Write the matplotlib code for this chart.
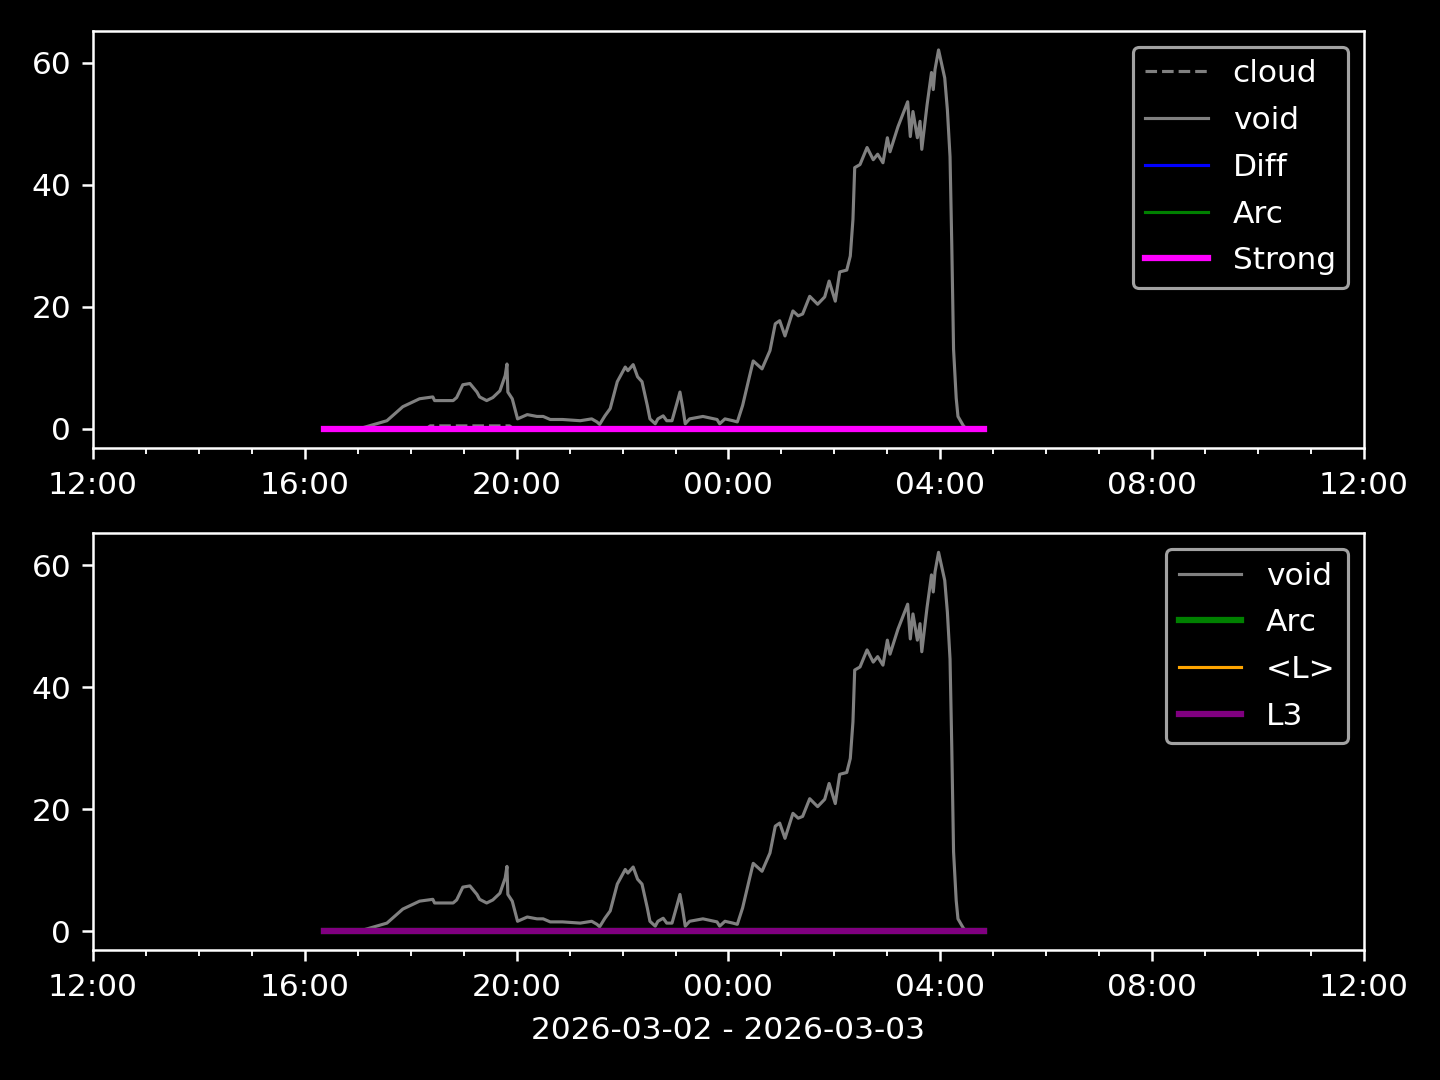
import matplotlib
matplotlib.use("Agg")
import matplotlib.pyplot as plt
import matplotlib.dates as mdates
import pandas as pd

# ---- data (times HH:MM; hours < 12 belong to 2026-03-03) ----
times = ["16:22", "17:02", "17:14", "17:33", "17:51", "18:10", "18:25", "18:27", "18:48", "18:52",
         "18:59", "19:07", "19:15", "19:18", "19:26", "19:33", "19:41", "19:47", "19:49", "19:50",
         "19:55", "20:01", "20:12", "20:23", "20:30", "20:38", "20:52", "21:12", "21:25", "21:31",
         "21:34", "21:40", "21:46", "21:54", "22:03", "22:06", "22:12", "22:17", "22:22", "22:28",
         "22:31", "22:37", "22:40", "22:46", "22:50", "22:56", "23:02", "23:05", "23:08", "23:11",
         "23:16", "23:31", "23:47", "23:50", "23:56", "00:05", "00:10", "00:16", "00:24", "00:28",
         "00:38", "00:47", "00:53", "00:58", "01:04", "01:13", "01:19", "01:24", "01:32", "01:41",
         "01:49", "01:54", "02:01", "02:06", "02:14", "02:18", "02:21", "02:23", "02:29", "02:37",
         "02:44", "02:49", "02:55", "03:00", "03:03", "03:12", "03:23", "03:26", "03:29", "03:34",
         "03:37", "03:39", "03:45", "03:50", "03:52", "03:54", "03:58", "04:05", "04:08", "04:11",
         "04:13", "04:15", "04:18", "04:20", "04:26", "04:29", "04:50"]
void = [0.0, 0.0, 0.5, 1.3, 3.6, 4.9, 5.2, 4.6, 4.6, 5.1,
        7.2, 7.4, 6.0, 5.2, 4.6, 5.1, 6.2, 8.7, 10.6, 6.0,
        4.9, 1.6, 2.3, 2.0, 2.0, 1.5, 1.5, 1.3, 1.6, 1.1,
        0.7, 2.1, 3.3, 7.7, 10.1, 9.5, 10.5, 8.5, 7.7, 3.8,
        1.6, 0.8, 1.6, 2.1, 1.3, 1.3, 4.4, 6.0, 3.6, 0.8,
        1.6, 2.0, 1.5, 0.8, 1.6, 1.3, 1.1, 3.8, 8.7, 11.1,
        9.8, 12.8, 17.2, 17.7, 15.2, 19.3, 18.5, 18.8, 21.7, 20.4,
        21.6, 24.2, 20.9, 25.7, 26.0, 28.3, 34.3, 42.8, 43.3, 46.1,
        44.1, 45.0, 43.6, 47.7, 45.4, 49.5, 53.6, 47.9, 52.0, 47.7,
        50.4, 45.8, 53.1, 58.4, 55.6, 58.9, 62.1, 57.5, 52.3, 44.6,
        30.0, 13.0, 5.0, 2.0, 0.5, 0.0, 0.0]
zero = [0.0] * len(times)
diff = zero
arc = zero
strong = zero
mean_l = zero
l3 = zero

cloud_times = ["16:22", "18:18", "18:22", "19:52", "19:56", "04:50"]
cloud = [0.0, 0.0, 0.45, 0.45, 0.0, 0.0]


def to_dt(hm):
    h = int(hm.split(":")[0])
    day = "2026-03-02" if h >= 12 else "2026-03-03"
    return pd.Timestamp(f"{day} {hm}")


t = [to_dt(s) for s in times]
tc = [to_dt(s) for s in cloud_times]

plt.style.use("dark_background")
fig, (ax1, ax2) = plt.subplots(2, 1, figsize=(6.4, 4.8), dpi=225)
fig.subplots_adjust(left=0.0646, right=0.9472, top=0.9713, bottom=0.1204, hspace=0.206)

ax1.plot(tc, cloud, color="gray", lw=1, ls="--", label="cloud")
ax1.plot(t, void, color="gray", lw=1, label="void")
ax1.plot(t, diff, color="blue", lw=1, label="Diff")
ax1.plot(t, arc, color="green", lw=1, label="Arc")
ax1.plot(t, strong, color="magenta", lw=2, label="Strong")
ax1.legend(loc="upper right", labelspacing=0.57)

ax2.plot(t, void, color="gray", lw=1, label="void")
ax2.plot(t, arc, color="green", lw=2, label="Arc")
ax2.plot(t, mean_l, color="orange", lw=1, label="<L>")
ax2.plot(t, l3, color="purple", lw=2, label="L3")
ax2.legend(loc="upper right", labelspacing=0.57)

for ax in (ax1, ax2):
    ax.set_xlim(pd.Timestamp("2026-03-02 12:00"), pd.Timestamp("2026-03-03 12:00"))
    ax.xaxis.set_major_locator(mdates.HourLocator(byhour=range(0, 24, 4)))
    ax.xaxis.set_minor_locator(mdates.HourLocator())
    ax.xaxis.set_major_formatter(mdates.DateFormatter("%H:%M"))
    ax.set_yticks([0, 20, 40, 60])
    ax.tick_params(axis="x", which="major", pad=4.0)

ax2.set_xlabel("2026-03-02 - 2026-03-03", labelpad=4.5)
fig.savefig("out.png")
